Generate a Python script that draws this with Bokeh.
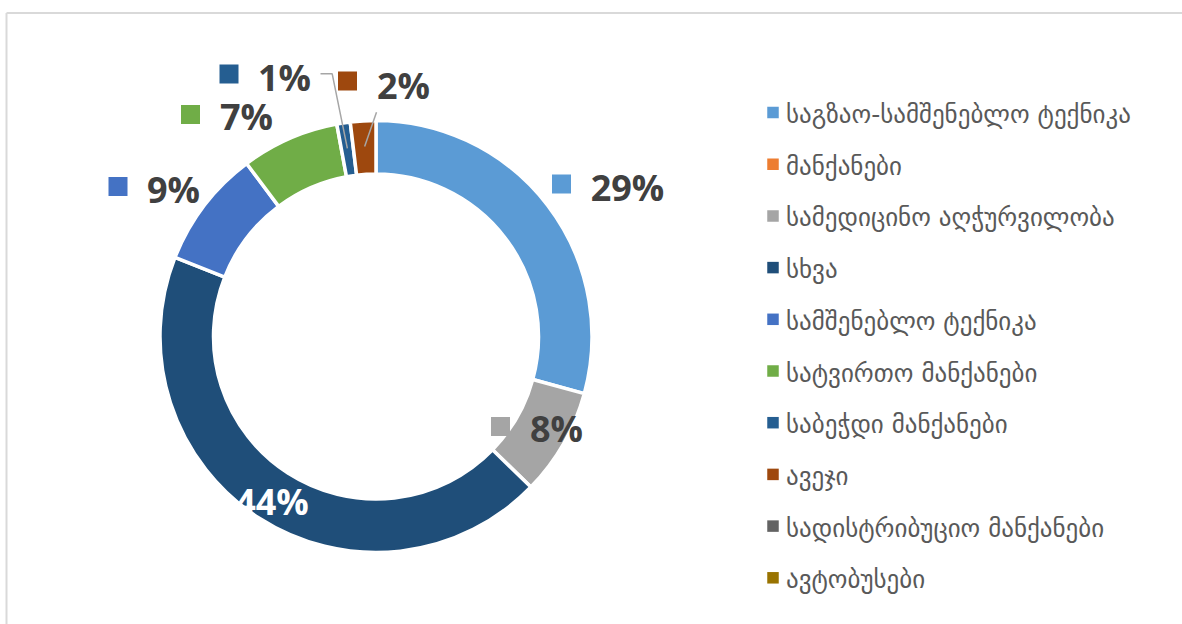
import math
from bokeh.plotting import figure
from bokeh.models import Range1d
from bokeh.core.properties import value
from bokeh.embed import file_html
from bokeh.resources import INLINE

# ---------------- data ----------------
categories = [
    "საგზაო-სამშენებლო ტექნიკა",
    "მანქანები",
    "სამედიცინო აღჭურვილობა",
    "სხვა",
    "სამშენებლო ტექნიკა",
    "სატვირთო მანქანები",
    "საბეჭდი მანქანები",
    "ავეჯი",
    "სადისტრიბუციო მანქანები",
    "ავტობუსები",
]
shares = [29.2, 0.0, 8.0, 43.6, 8.8, 7.3, 1.0, 1.9, 0.0, 0.0]
colors = ["#5B9BD5", "#ED7D31", "#A5A5A5", "#1F4E79", "#4472C4",
          "#70AD47", "#255E91", "#9E480E", "#636363", "#997300"]

# ---------------- layout (image pixel coords, y down) ----------------
W, H = 1182, 624
CX, CY = 375.5, 336.0
R_OUT, R_IN = 216.0, 162.5
label_pos = {0: (627, 187), 2: (556, 428), 3: (271.5, 501), 4: (173, 189),
             5: (246, 116), 6: (284, 77), 7: (403, 85)}
key_pos = {0: (561, 183.5), 2: (500, 426), 4: (117.5, 186),
           5: (190, 114), 6: (228.5, 73.5), 7: (347, 80.5)}
leader_start = {6: [(320, 73.3), (331.7, 73.3)], 7: [(376, 111.7)]}
LEG_X, LEG_Y0, LEG_DY = 772.5, 112.0, 51.7


def Y(yi):
    return H - yi


p = figure(width=W, height=H, output_backend="svg", toolbar_location=None,
           x_range=Range1d(0, W), y_range=Range1d(0, H),
           min_border=0, min_border_left=0, min_border_right=0,
           min_border_top=0, min_border_bottom=0)
p.axis.visible = False
p.grid.visible = False
p.outline_line_color = None
p.background_fill_color = "white"
p.border_fill_color = "white"

# chart border (top and left visible)
p.line([6, W], [Y(12.5), Y(12.5)], line_color="#D9D9D9", line_width=2)
p.line([6, 6], [Y(12.5), 0], line_color="#D9D9D9", line_width=2)

total = sum(shares)
cum = 0.0
mids = {}
for i, s in enumerate(shares):
    a0 = cum / total * 2 * math.pi
    cum += s
    a1 = cum / total * 2 * math.pi
    mids[i] = (a0 + a1) / 2
    if s <= 0:
        continue
    p.annular_wedge(x=CX, y=Y(CY), inner_radius=R_IN, outer_radius=R_OUT,
                    start_angle=math.pi / 2 - a1, end_angle=math.pi / 2 - a0,
                    fill_color=colors[i], line_color="white", line_width=3.5)

# leader lines
RM = (R_IN + R_OUT) / 2 + 1
for i, pts in leader_start.items():
    ang = mids[i]
    ax = CX + RM * math.sin(ang)
    ay = CY - RM * math.cos(ang)
    xs = [q[0] for q in pts] + [ax]
    ys = [Y(q[1]) for q in pts] + [Y(ay)]
    p.line(xs, ys, line_color="#A6A6A6", line_width=1.5)

# data labels
for i, s in enumerate(shares):
    if s <= 0:
        continue
    pct = f"{round(s / total * 100)}%"
    if i in key_pos:
        kx, ky = key_pos[i]
        p.scatter([kx], [Y(ky)], marker="square", size=19, fill_color=colors[i],
                  line_color=None)
    lx, ly = label_pos[i]
    p.text([lx], [Y(ly)], text=[pct], text_align="center", text_baseline="middle",
           text_font=value("Open Sans"), text_font_style="bold",
           text_font_size="36px",
           text_color="white" if i == 3 else "#404040")

# legend
for k, name in enumerate(categories):
    yy = LEG_Y0 + k * LEG_DY
    p.scatter([LEG_X], [Y(yy)], marker="square", size=11.5, fill_color=colors[k],
              line_color=None)
    p.text([LEG_X + 13], [Y(yy + 2)], text=[name], text_align="left",
           text_baseline="middle", text_font=value("DejaVu Sans"),
           text_font_size="25px", text_color="#595959")

open("out.html", "w").write(file_html(p, INLINE))
